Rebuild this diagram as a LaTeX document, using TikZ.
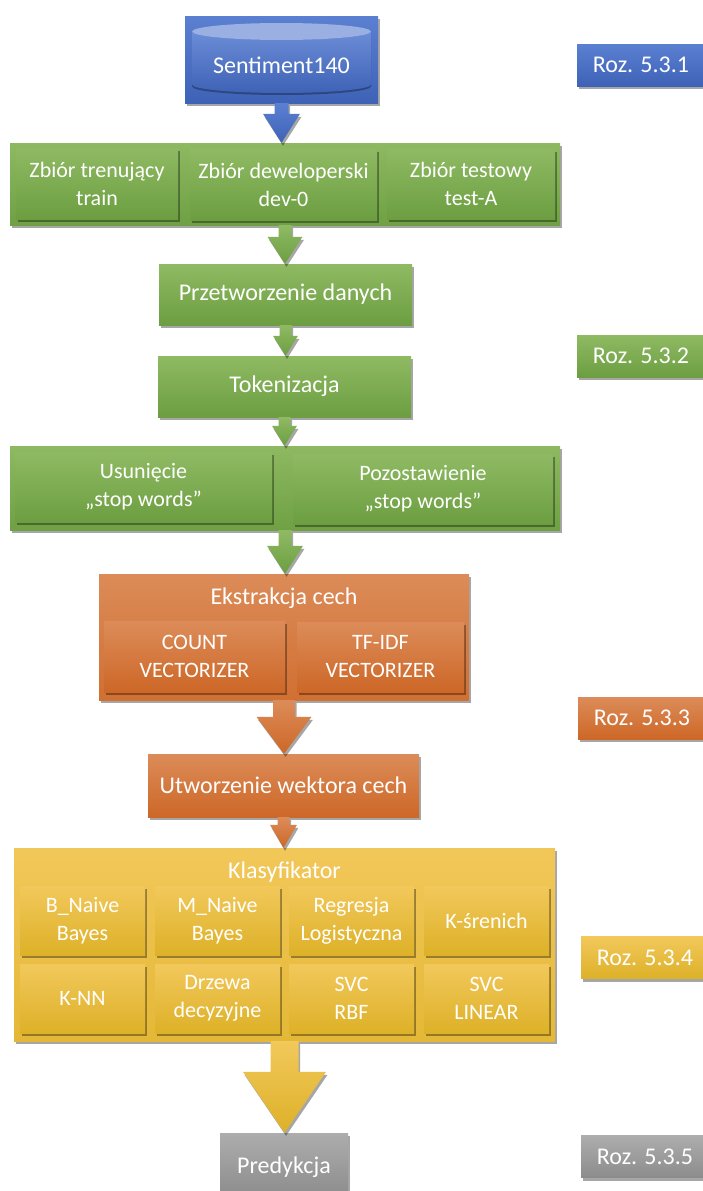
\documentclass[tikz,border=0pt]{standalone}
\usepackage{fontspec}
\setmainfont{Carlito}
\usetikzlibrary{calc,shadows}

% palette
\definecolor{bluetop}{HTML}{5B80D2}
\definecolor{bluebot}{HTML}{3E62B6}
\definecolor{bluecap}{HTML}{9AAFE2}
\definecolor{greentop}{HTML}{8FBA63}
\definecolor{greenbot}{HTML}{6C9E41}
\definecolor{greenbg}{HTML}{7FAE52}
\definecolor{orangetop}{HTML}{DC8C59}
\definecolor{orangebot}{HTML}{CD6727}
\definecolor{orangebg}{HTML}{D9844D}
\definecolor{yellowtop}{HTML}{F2C85B}
\definecolor{yellowbot}{HTML}{DDB128}
\definecolor{yellowbg}{HTML}{EFC24C}
\definecolor{graytop}{HTML}{ADADAD}
\definecolor{graybot}{HTML}{8C8C8C}

\tikzset{
  softshadow/.style={drop shadow={shadow xshift=1.5pt, shadow yshift=-3pt, opacity=0.35, fill=black}},
  boxbase/.style={rectangle, inner sep=0pt, text=white, align=center, softshadow},
  bigtxt/.style={font=\fontsize{24}{29}\selectfont},
  smalltxt/.style={font=\fontsize{22}{28}\selectfont},
  bluebox/.style={boxbase, top color=bluetop, bottom color=bluebot},
  greenbox/.style={boxbase, top color=greentop, bottom color=greenbot},
  greencont/.style={boxbase, top color=greentop!92!greenbg, bottom color=greenbot!85!greenbg},
  orangebox/.style={boxbase, top color=orangetop, bottom color=orangebot},
  orangecont/.style={boxbase, top color=orangetop!90!orangebg, bottom color=orangebot!70!orangebg},
  yellowbox/.style={boxbase, top color=yellowtop, bottom color=yellowbot},
  yellowcont/.style={boxbase, top color=yellowtop!90!yellowbg, bottom color=yellowbot!60!yellowbg},
  graybox/.style={boxbase, top color=graytop, bottom color=graybot},
  rozbox/.style={minimum width=128pt, minimum height=42pt, bigtxt},
  gridcell/.style={yellowbox, smalltxt, minimum width=125pt, minimum height=69pt},
  arrowshade/.style={top color=#1top, bottom color=#1bot, softshadow},
}

% block arrow: style, source anchor, target anchor, shaft half width, head half width, head length
\newcommand{\blockarrow}[6]{%
  \coordinate (ba-s) at (#2);
  \coordinate (ba-t) at (#2 |- #3);
  \path[#1] ($(ba-s)+(-#4,0)$) -- ($(ba-t)+(-#4,-#6)$) -- ($(ba-t)+(-#5,-#6)$)
    -- (ba-t) -- ($(ba-t)+(#5,-#6)$) -- ($(ba-t)+(#4,-#6)$) -- ($(ba-s)+(#4,0)$) -- cycle;}

\begin{document}
\begin{tikzpicture}[x=1pt, y=-1pt]
\useasboundingbox (0,0) rectangle (703,1191);

% data source: box with a database cylinder
\node[bluebox, minimum width=193pt, minimum height=87pt] (src) at (281.5,59.5) {};
\shade[top color=bluetop!90!white, bottom color=bluebot, drop shadow={shadow xshift=0pt, shadow yshift=-2pt, opacity=0.3, fill=black}]
  (192,31.5) -- (192,84.5) arc[start angle=180, end angle=0, x radius=89.5, y radius=8.5]
  -- (371,31.5) arc[start angle=0, end angle=180, x radius=89.5, y radius=8.5] -- cycle;
\fill[bluecap] (281.5,31.5) ellipse[x radius=89.5, y radius=8.5];
\node[text=white, bigtxt] (srctxt) at (281.5,65) {Sentiment140};

% data split
\node[greencont, minimum width=550pt, minimum height=82pt] (split) at (285,184) {};
\node[greenbox, smalltxt, minimum width=162pt, minimum height=71pt] (train) at (97,183.5) {Zbiór trenujący\\train};
\node[greenbox, smalltxt, minimum width=187pt, minimum height=71pt] (dev) at (283.5,184.5) {Zbiór deweloperski\\dev-0};
\node[greenbox, smalltxt, minimum width=168pt, minimum height=70pt] (test) at (471,184) {Zbiór testowy\\test-A};

% preprocessing
\node[greenbox, bigtxt, minimum width=253pt, minimum height=61pt] (prep) at (285.5,294.5) {Przetworzenie danych};
\node[greenbox, bigtxt, minimum width=253pt, minimum height=61pt] (tok) at (284.5,386.5) {Tokenizacja};

\node[greencont, minimum width=550pt, minimum height=84pt] (stop) at (285,488) {};
\node[greenbox, smalltxt, minimum width=257pt, minimum height=70pt] (rm) at (143.5,487) {Usunięcie\\„stop words”};
\node[greenbox, smalltxt, minimum width=260pt, minimum height=70pt] (keep) at (423,489) {Pozostawienie\\„stop words”};

% feature extraction
\node[orangecont, minimum width=370pt, minimum height=126pt] (feat) at (284,637) {};
\node[text=white, bigtxt] (feattitle) at (284,598) {Ekstrakcja cech};
\node[orangebox, smalltxt, minimum width=181pt, minimum height=71pt] (count) at (194.5,656.5) {COUNT\\VECTORIZER};
\node[orangebox, smalltxt, minimum width=167pt, minimum height=70pt] (tfidf) at (380.5,657) {TF-IDF\\VECTORIZER};

\node[orangebox, bigtxt, minimum width=271pt, minimum height=63pt] (vec) at (283.5,785.5) {Utworzenie wektora cech};

% classifiers
\node[yellowcont, minimum width=541pt, minimum height=193pt] (clf) at (284.5,944.5) {};
\node[text=white, bigtxt] (clftitle) at (284.5,872) {Klasyfikator};
\node[gridcell] (bnb) at (82.5,920.5) {B\_Naive\\Bayes};
\node[gridcell] (mnb) at (217.5,920.5) {M\_Naive\\Bayes};
\node[gridcell] (lr) at (351.5,920.5) {Regresja\\Logistyczna};
\node[gridcell] (km) at (486.5,920.5) {K-śrenich};
\node[gridcell] (knn) at (82.5,998.5) {K-NN};
\node[gridcell] (dt) at (217.5,998.5) {Drzewa\\decyzyjne};
\node[gridcell] (rbf) at (351.5,998.5) {SVC\\RBF};
\node[gridcell] (lin) at (486.5,998.5) {SVC\\LINEAR};

% prediction
\node[graybox, bigtxt, minimum width=128pt, minimum height=64pt, text depth=0pt] (pred) at (284,1165) {Predykcja};

% section references
\node[bluebox, rozbox] (r1) at (641,65) {Roz. 5.3.1};
\node[greenbox, rozbox] (r2) at (641,356) {Roz. 5.3.2};
\node[orangebox, rozbox] (r3) at (642,718) {Roz. 5.3.3};
\node[yellowbox, rozbox] (r4) at (645,957.5) {Roz. 5.3.4};
\node[graybox, rozbox] (r5) at (645,1156.5) {Roz. 5.3.5};

% flow arrows
\blockarrow{arrowshade=blue}{src.south}{split.north}{7}{18.5}{29}
\blockarrow{arrowshade=green}{split.south}{prep.north}{6.5}{17.5}{27}
\blockarrow{arrowshade=green}{prep.south}{tok.north}{6}{12.5}{20}
\blockarrow{arrowshade=green}{tok.south}{stop.north}{6}{12.5}{20}
\blockarrow{arrowshade=green}{stop.south}{feat.north}{6.5}{18}{28}
\blockarrow{arrowshade=orange}{feat.south}{vec.north}{11}{27.5}{37}
\blockarrow{arrowshade=orange}{vec.south}{clf.north}{6}{13.5}{23}
\blockarrow{arrowshade=yellow}{clf.south}{pred.north}{14}{41.5}{61}
\end{tikzpicture}
\end{document}
